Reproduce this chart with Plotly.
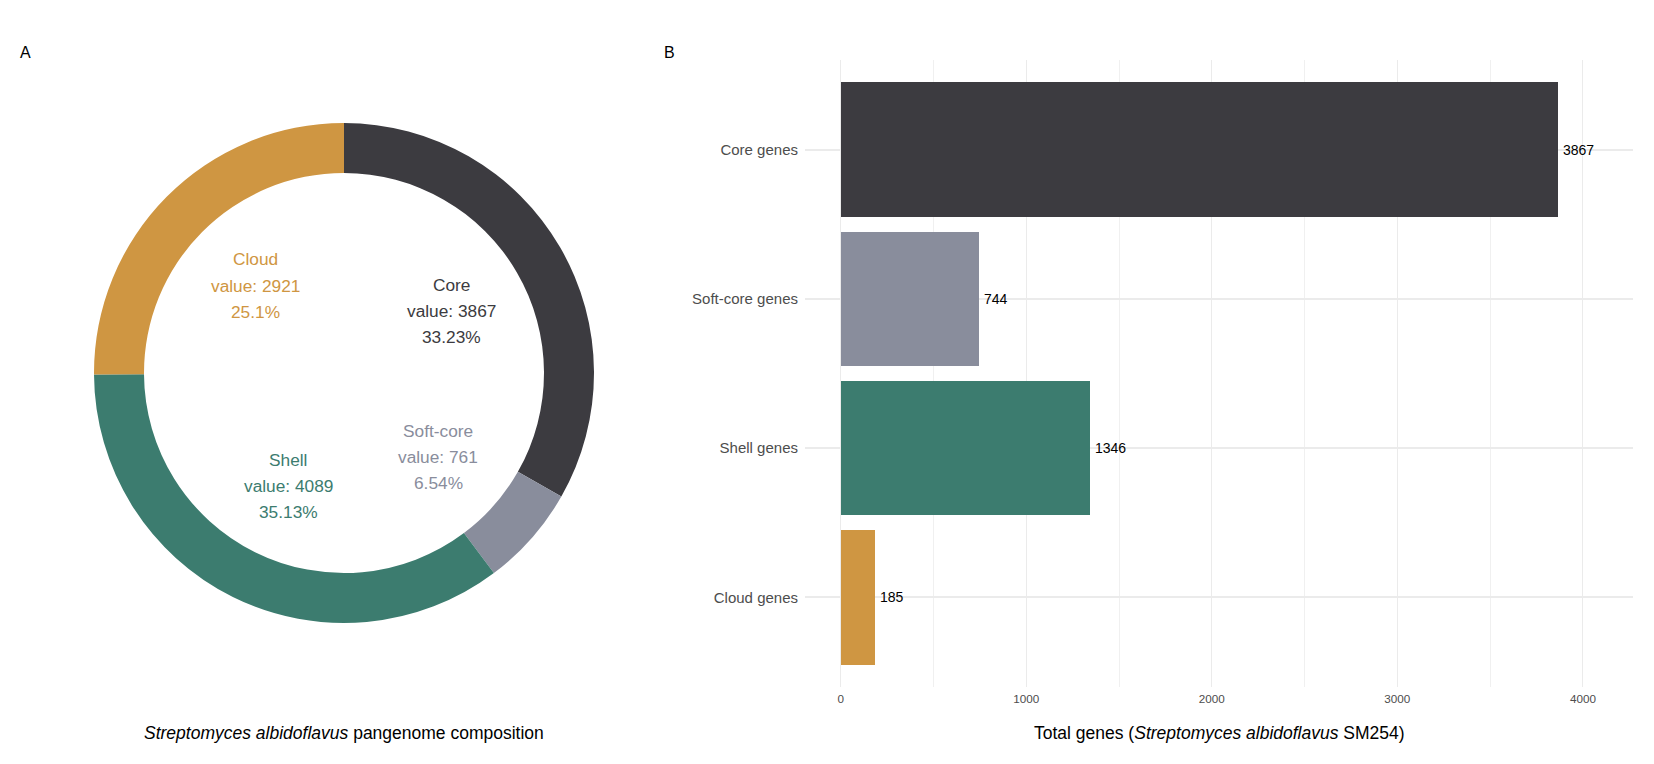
import plotly.graph_objects as go

# ---- data ----
pie_labels = ["Core", "Soft-core", "Shell", "Cloud"]
pie_values = [3867, 761, 4089, 2921]
pie_pcts = ["33.23%", "6.54%", "35.13%", "25.1%"]
colors = ["#3C3B40", "#898D9C", "#3C7C6F", "#CF9642"]

bar_cats = ["Core genes", "Soft-core genes", "Shell genes", "Cloud genes"]
bar_values = [3867, 744, 1346, 185]
x_ticks = [0, 1000, 2000, 3000, 4000]

# ---- layout helpers (pixel positions within the 1654x764 screenshot) ----
OFF = 8  # page body margin
W, H = 1654 - 2 * OFF, 764 - 2 * OFF
def px(x):
    return (x - OFF) / W
def py(y):
    return 1 - (y - OFF) / H

# label centres for the donut annotations (pixel coords of each label block)
label_pos = [(452, 285), (438, 431), (288, 460), (256, 259.5)]
line_gap = 26

fig = go.Figure()

fig.add_trace(go.Pie(
    labels=pie_labels, values=pie_values, hole=0.8, sort=False,
    direction="clockwise", rotation=0, textinfo="none",
    marker=dict(colors=colors, line=dict(width=0)),
    domain=dict(x=[px(94), px(594)], y=[py(623), py(123)]),
    showlegend=False,
))

fig.add_trace(go.Bar(
    y=bar_cats, x=bar_values, orientation="h", width=0.9,
    marker=dict(color=colors, line=dict(width=0)),
    showlegend=False, xaxis="x", yaxis="y",
))

annotations = []
for (cx, cy), name, val, pct, col in zip(label_pos, pie_labels, pie_values, pie_pcts, colors):
    for i, t in enumerate([name, f"value: {val}", pct]):
        annotations.append(dict(
            x=px(cx), y=py(cy + i * line_gap), xref="paper", yref="paper",
            text=t, showarrow=False, xanchor="center", yanchor="middle",
            font=dict(size=17.3, color=col, family="Liberation Sans"),
        ))

for cat, v in zip(bar_cats, bar_values):
    annotations.append(dict(
        x=v, y=cat, xref="x", yref="y", text=str(v), showarrow=False,
        xanchor="left", yanchor="middle", xshift=3,
        font=dict(size=14, color="#000000", family="Liberation Sans"),
    ))

annotations += [
    dict(x=px(25.5), y=py(52), xref="paper", yref="paper", text="A", showarrow=False,
         xanchor="center", yanchor="middle", font=dict(size=16, color="#000000")),
    dict(x=px(669), y=py(52), xref="paper", yref="paper", text="B", showarrow=False,
         xanchor="center", yanchor="middle", font=dict(size=16, color="#000000")),
    dict(x=px(344), y=py(733), xref="paper", yref="paper",
         text="<i>Streptomyces albidoflavus</i> pangenome composition", showarrow=False,
         xanchor="center", yanchor="middle", font=dict(size=17.5, color="#000000")),
    dict(x=px(1219), y=py(733), xref="paper", yref="paper",
         text="Total genes (<i>Streptomyces albidoflavus</i> SM254)", showarrow=False,
         xanchor="center", yanchor="middle", font=dict(size=17.5, color="#000000")),
]

fig.update_layout(
    width=W, height=H,
    margin=dict(l=0, r=0, t=0, b=0),
    paper_bgcolor="white", plot_bgcolor="white",
    font=dict(family="Liberation Sans", color="#000000"),
    annotations=annotations,
    bargap=0,
    xaxis=dict(
        domain=[px(805), px(1633)], anchor="y",
        range=[-192.5, 4270], tickvals=x_ticks,
        tickfont=dict(size=11.7, color="#4D4D4D"),
        showgrid=True, gridcolor="#EBEBEB", gridwidth=1,
        minor=dict(dtick=500, tick0=0, showgrid=True, gridcolor="#F0F0F0", gridwidth=1),
        zeroline=False, showline=False, ticks="", ticklabelstandoff=3,
    ),
    yaxis=dict(
        domain=[py(687), py(60)], anchor="x",
        type="category", categoryorder="array", categoryarray=bar_cats,
        range=[3.6, -0.6],
        tickfont=dict(size=15, color="#4D4D4D"),
        showgrid=True, gridcolor="#EBEBEB", gridwidth=1.5,
        zeroline=False, showline=False, ticks="", ticklabelstandoff=6,
    ),
)

fig.write_html("out.html")
